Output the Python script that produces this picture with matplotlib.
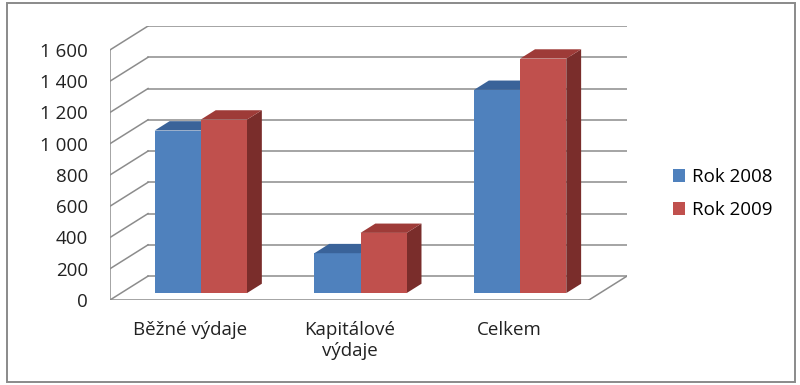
import matplotlib.pyplot as plt
from matplotlib.patches import Polygon, Rectangle
from matplotlib.ticker import FuncFormatter
import numpy as np

# data
categories = ['Běžné výdaje', 'Kapitálové\nvýdaje', 'Celkem']
series_names = ['Rok 2008', 'Rok 2009']
values_2008 = [1040, 255, 1300]
values_2009 = [1110, 385, 1500]
y_ticks = [0, 200, 400, 600, 800, 1000, 1200, 1400, 1600]

face_colors = ['#4F81BD', '#C0504D']
top_colors = ['#3A6399', '#9E3B38']
side_colors = ['#35577F', '#7A2D2B']
grid_color = '#8C8C8C'

plt.rcParams['font.family'] = ['Open Sans', 'DejaVu Sans']

fig = plt.figure(figsize=(8, 3.85), dpi=100)
fig.patches.append(Rectangle((7 / 800, 3 / 385), 788 / 800, 379 / 385,
                             transform=fig.transFigure, fill=False,
                             edgecolor='#8A8A8A', linewidth=1.4))

ax = fig.add_axes([110 / 800, 85 / 385, 517 / 800, 274 / 385])

n = len(categories)
ymax = y_ticks[-1]
# depth of the back wall in data units
dx = 3 * 38 / 478
dy = ymax * 24 / 251
ax.set_xlim(0, n + dx)
ax.set_ylim(0, ymax + dy)

# walls and floor
for v in y_ticks:
    ax.plot([0, dx], [v, v + dy], color=grid_color, lw=1.1)
    ax.plot([dx, n + dx], [v + dy, v + dy], color=grid_color, lw=1.1)
ax.plot([0, 0], [0, ymax], color=grid_color, lw=1.1)
ax.plot([0, n], [0, 0], color=grid_color, lw=1.1)
ax.plot([n, n + dx], [0, dy], color=grid_color, lw=1.1)

# 3d bars
bar_w = 0.289
front = 0.29
depth = 0.39
ox, oy = front * dx, front * dy
bx, by = depth * dx, depth * dy
x = np.arange(n) + 0.5
for i, vals in enumerate([values_2008, values_2009]):
    left = x + ox - bar_w + i * bar_w
    ax.bar(left, vals, width=bar_w, bottom=oy, align='edge',
           color=face_colors[i], zorder=3 + i, label=series_names[i])
    for l, v in zip(left, vals):
        r = l + bar_w
        top = v + oy
        ax.add_patch(Polygon([(l, top), (r, top), (r + bx, top + by),
                              (l + bx, top + by)], closed=True,
                             facecolor=top_colors[i], edgecolor='none',
                             zorder=3 + i))
        ax.add_patch(Polygon([(r, oy), (r, top), (r + bx, top + by),
                              (r + bx, oy + by)], closed=True,
                             facecolor=side_colors[i], edgecolor='none',
                             zorder=2.9 + i))

for s in ax.spines.values():
    s.set_visible(False)
ax.set_yticks(y_ticks)
ax.yaxis.set_major_formatter(FuncFormatter(lambda v, p: f'{int(v):,}'.replace(',', ' ')))
ax.set_xticks(x)
ax.set_xticklabels(categories, linespacing=1.25)
ax.tick_params(axis='both', length=0, labelsize=13.5, colors='#222222')
ax.tick_params(axis='y', pad=16)
ax.tick_params(axis='x', pad=15)

fig.legend(loc='center left', bbox_to_anchor=(656 / 800, 0.497),
           frameon=False, fontsize=13.5, handlelength=0.65, handleheight=0.65,
           handletextpad=0.35, labelspacing=0.8)

fig.savefig('out.png', dpi=100)
